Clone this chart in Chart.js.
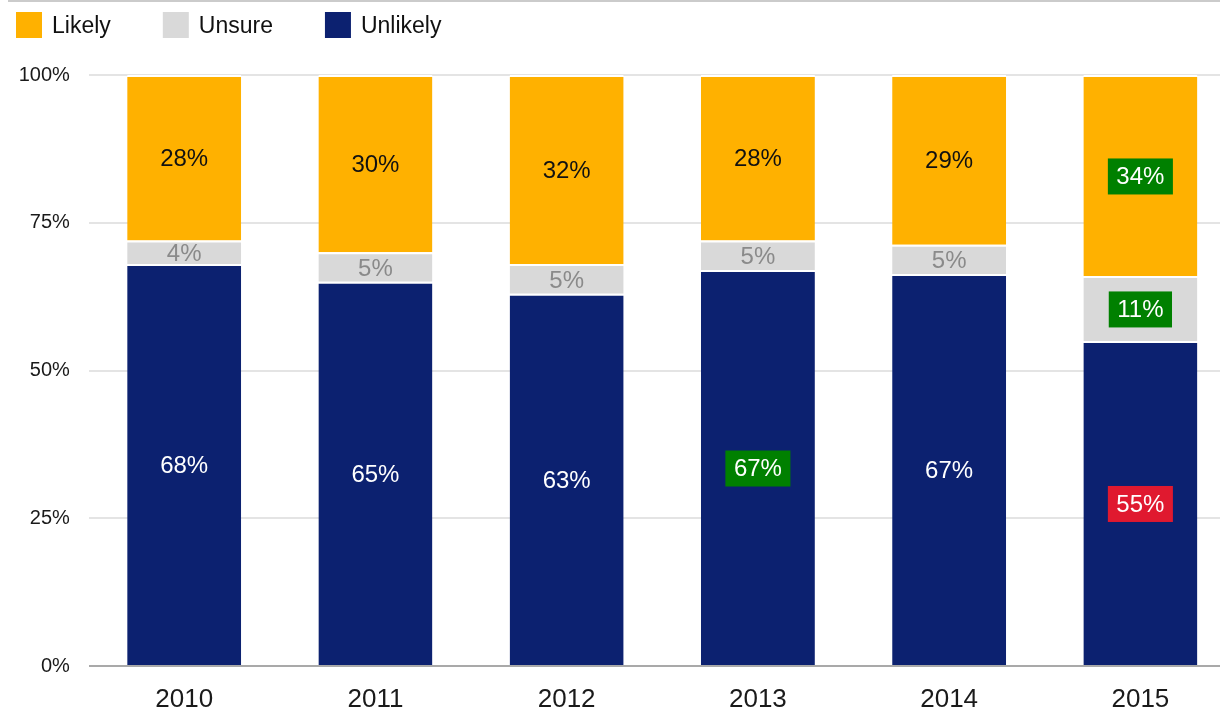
<!DOCTYPE html>
<html>
<head>
<meta charset="utf-8">
<title>Likelihood by year</title>
<script src="https://cdn.jsdelivr.net/npm/chart.js@4"></script>
<style>
  html, body { margin: 0; padding: 0; background: #fff; overflow: hidden; }
  #wrap { position: relative; width: 1240px; height: 710px; overflow: hidden; }
  #rule { position: absolute; left: 8px; top: 0; width: 1232px; height: 2px; background: #cbcbcb; }
</style>
</head>
<body>
<div id="wrap">
  <canvas id="chart" width="1240" height="734"></canvas>
  <div id="rule"></div>
</div>
<script>
// survey answers per year, in percent as printed on the bars
const years = ['2010', '2011', '2012', '2013', '2014', '2015'];
const likely = [28, 30, 32, 28, 29, 34];
const unsure = [4, 5, 5, 5, 5, 11];
const unlikely = [68, 65, 63, 67, 67, 55];

// significant changes get a coloured badge behind the number
const likelyMarks = ['', '', '', '', '', 'up'];
const unsureMarks = ['', '', '', '', '', 'up'];
const unlikelyMarks = ['', '', '', 'up', '', 'down'];

const yTicks = [0, 25, 50, 75, 100];

const FONT = '"Liberation Sans", Arial, sans-serif';
const markColors = { up: '#008000', down: '#e0192f' };

// bars are drawn as share of the yearly total so each column fills 100%
const totals = years.map((_, i) => likely[i] + unsure[i] + unlikely[i]);
const share = arr => arr.map((v, i) => v / totals[i] * 100);

const segBorder = { top: 2, right: 0, bottom: 0, left: 0 };

const datasets = [
  { label: 'Unlikely', data: share(unlikely), shown: unlikely, marks: unlikelyMarks,
    backgroundColor: '#0c2170', labelColor: '#ffffff' },
  { label: 'Unsure', data: share(unsure), shown: unsure, marks: unsureMarks,
    backgroundColor: '#d9d9d9', labelColor: '#8a8a8a' },
  { label: 'Likely', data: share(likely), shown: likely, marks: likelyMarks,
    backgroundColor: '#ffb100', labelColor: '#111111' }
].map(ds => Object.assign(ds, {
  borderColor: '#ffffff',
  borderWidth: segBorder,
  borderSkipped: false,
  barPercentage: 0.596,
  categoryPercentage: 1
}));

// legend across the top, listed top-of-stack first
const topLegend = {
  id: 'topLegend',
  afterDraw(chart) {
    const ctx = chart.ctx;
    ctx.save();
    ctx.font = '23px ' + FONT;
    ctx.textBaseline = 'alphabetic';
    ctx.textAlign = 'left';
    let x = 16;
    chart.data.datasets.slice().reverse().forEach(ds => {
      ctx.fillStyle = ds.backgroundColor;
      ctx.fillRect(x, 12, 26, 26);
      ctx.fillStyle = '#111';
      ctx.fillText(ds.label, x + 36, 33);
      x += 36 + ctx.measureText(ds.label).width + 52;
    });
    ctx.restore();
  }
};

// value printed in the middle of every segment
const valueLabels = {
  id: 'valueLabels',
  afterDatasetsDraw(chart) {
    const ctx = chart.ctx;
    ctx.save();
    ctx.font = '24px ' + FONT;
    ctx.textAlign = 'center';
    ctx.textBaseline = 'middle';
    chart.data.datasets.forEach((ds, di) => {
      chart.getDatasetMeta(di).data.forEach((bar, i) => {
        const text = ds.shown[i] + '%';
        const cx = bar.x;
        const cy = (bar.y + bar.base) / 2 + 1;
        const mark = ds.marks[i];
        if (mark) {
          const w = ctx.measureText(text).width + 17;
          ctx.fillStyle = markColors[mark];
          ctx.fillRect(cx - w / 2, cy - 18, w, 36);
          ctx.fillStyle = '#ffffff';
        } else {
          ctx.fillStyle = ds.labelColor;
        }
        ctx.fillText(text, cx, cy + 1);
      });
    });
    ctx.restore();
  }
};

new Chart(document.getElementById('chart'), {
  type: 'bar',
  data: { labels: years, datasets: datasets },
  options: {
    responsive: false,
    animation: false,
    layout: { padding: { top: 75, left: 0, right: 4, bottom: 0 } },
    plugins: {
      legend: { display: false },
      tooltip: { enabled: false }
    },
    scales: {
      x: {
        stacked: true,
        grid: { display: false, drawTicks: false },
        border: { display: false },
        ticks: { color: '#1a1a1a', padding: 21, font: { family: FONT, size: 26, lineHeight: 1 } }
      },
      y: {
        stacked: true,
        min: 0,
        max: 100,
        afterBuildTicks: axis => { axis.ticks = yTicks.map(v => ({ value: v })); },
        grid: {
          drawTicks: false,
          lineWidth: 2,
          color: c => c.tick && c.tick.value === 0 ? '#a9a9a9' : '#e4e4e4'
        },
        border: { display: false },
        ticks: {
          color: '#1a1a1a',
          padding: 18.7,
          font: { family: FONT, size: 20 },
          callback: v => v + '%'
        }
      }
    }
  },
  plugins: [topLegend, valueLabels]
});
</script>
</body>
</html>
